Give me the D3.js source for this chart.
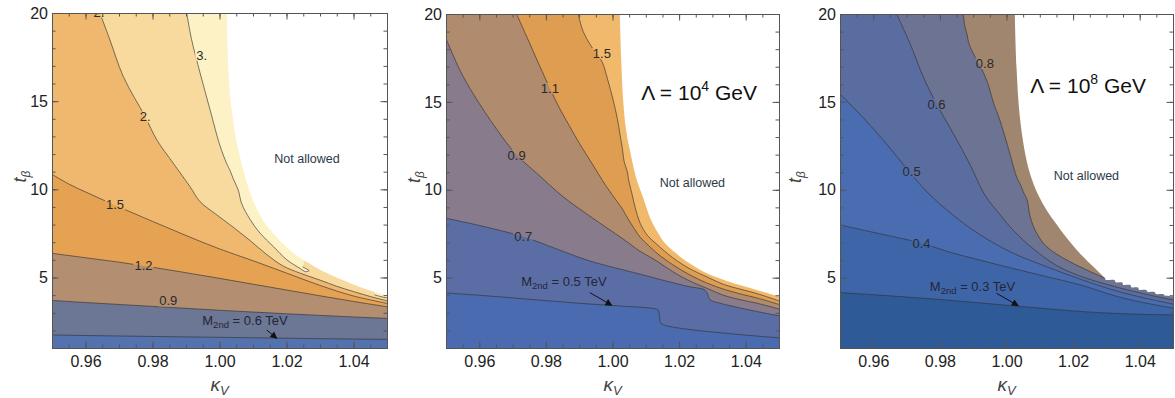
<!DOCTYPE html>
<html><head><meta charset="utf-8">
<script src="https://cdn.jsdelivr.net/npm/d3@7"></script>
<style>
body{margin:0;background:#fff}
svg{display:block}
text{font-family:"Liberation Sans",Arial,sans-serif}
</style>
</head><body>
<svg id="chart" width="1175" height="398"></svg>
<script>
// ---------- axes / ticks ----------
const xDomain = [0.95, 1.05];
const yDomain = [1, 20];
const xMajor = [0.96, 0.98, 1.00, 1.02, 1.04];
const yMajor = [5, 10, 15, 20];
const xMinorStep = 0.005;
const yMinorStep = 1;

// ---------- panel 1 ----------
const p1Levels = [0.6, 0.9, 1.2, 1.5, 2, 3];
const p1_c06 = [[0.95,1.74],[0.97,1.68],[0.99,1.63],[1.01,1.58],[1.03,1.53],[1.05,1.49]];
const p1_c09 = [[0.95,3.70],[0.96,3.58],[0.97,3.47],[0.98,3.36],[0.99,3.25],[1.00,3.14],[1.01,3.04],[1.02,2.94],[1.03,2.85],[1.04,2.76],[1.05,2.68]];
const p1_c12 = [[0.95,6.37],[0.96,6.12],[0.97,5.87],[0.98,5.58],[0.99,5.27],[1.00,4.95],[1.01,4.62],[1.02,4.29],[1.03,3.96],[1.04,3.64],[1.05,3.34]];
const p1_c15 = [[0.95,10.85],[0.955,10.3],[0.96,9.85],[0.965,9.42],[0.97,9.0],[0.98,8.18],[0.99,7.38],[1.00,6.62],[1.01,5.95],[1.02,5.25],[1.03,4.55],[1.04,3.95],[1.05,3.53]];
const p1_c2 = [[0.9643,20],[0.9673,18.47],[0.9713,16.39],[0.9778,14.12],[0.9813,12.8],[0.9862,11.48],[0.9912,10.15],[0.9942,9.3],[0.9992,8.55],[1.0041,7.85],[1.0091,7.1],[1.0141,6.3],[1.019,5.65],[1.024,5.25],[1.03,4.85],[1.035,4.5],[1.04,4.2],[1.045,3.92],[1.05,3.68]];
const p1_c3 = [[0.9902,20],[0.9917,18.47],[0.9942,16.6],[0.9972,14.5],[1.0001,12.5],[1.0021,11.48],[1.0033,11.0],[1.0041,10.6],[1.0056,9.96],[1.0066,9.2],[1.0091,8.3],[1.0121,7.51],[1.0161,6.75],[1.0201,6.0],[1.024,5.52],[1.0257,5.33],[1.0267,5.38],[1.0248,5.6]];
const p1_c3b = [[1.0462,4.02],[1.0485,3.9],[1.05,3.84]];
const p1_edge = [[1.0022,20],[1.0025,17.5],[1.0031,15.5],[1.004,14],[1.0048,13],[1.0058,12.1],[1.0075,10.8],[1.0098,9.45],[1.0125,8.4],[1.0141,7.95],[1.0165,7.4],[1.019,6.9],[1.022,6.4],[1.025,6.0],[1.0285,5.6],[1.032,5.25],[1.0355,4.95],[1.039,4.67],[1.0425,4.42],[1.0459,4.2],[1.05,4.0]];
const p1LabelText = ["2.", "3.", "2.", "1.5", "1.2", "0.9"];
const p1LabelPos = [[0.9640,20.06],[0.9947,17.62],[0.9778,14.12],[0.9688,9.15],[0.9773,5.71],[0.9847,3.68]];
const p1Mass = "0.6";
const p1MassPos = [1.0076, 2.30];
const p1Arrow = [[1.0141,2.02],[1.0171,1.55]];
const p1NotAllowed = [1.0261, 11.76];

// ---------- panel 2 ----------
const p2Levels = [0.5, 0.7, 0.9, 1.1, 1.5];
const p2_c05 = [[0.95,4.13],[0.96,4.0],[0.9732,3.8],[0.983,3.65],[0.9932,3.5],[1.003,3.38],[1.0123,3.25],[1.0136,3.18],[1.0141,2.9],[1.0144,2.45],[1.0156,2.3],[1.0233,2.05],[1.0333,1.85],[1.0433,1.68],[1.05,1.58]];
const p2_c07 = [[0.95,8.38],[0.96,7.97],[0.9732,7.33],[0.983,6.65],[0.9932,5.95],[1.0083,5.2],[1.0163,4.8],[1.0233,4.48],[1.0275,4.32],[1.0285,4.1],[1.0293,3.75],[1.0333,3.5],[1.0433,3.08],[1.05,2.83]];
const p2_c09 = [[0.95,18.6],[0.9542,16.8],[0.9582,15.45],[0.9652,13.45],[0.9712,11.98],[0.9772,10.95],[0.9852,9.6],[0.9932,8.5],[1.0032,7.2],[1.0083,6.5],[1.0133,5.95],[1.018,5.35],[1.0233,4.8],[1.0283,4.4],[1.0333,4.0],[1.0383,3.75],[1.0433,3.55],[1.05,3.22]];
const p2_c11 = [[0.9712,20],[0.9745,18.6],[0.978,17.1],[0.9812,15.77],[0.9842,14.6],[0.9872,13.59],[0.9902,12.6],[0.9932,11.69],[0.9982,10.18],[1.0015,9.3],[1.003,8.9],[1.0045,8.4],[1.0065,7.8],[1.0083,7.3],[1.011,6.8],[1.0133,6.4],[1.018,5.75],[1.0233,5.15],[1.0283,4.7],[1.0333,4.35],[1.0383,4.08],[1.0433,3.85],[1.05,3.48]];
const p2_c15 = [[0.9897,20],[0.9912,19.0],[0.9935,18.2],[0.9968,17.3],[0.9985,16.3],[1.0002,15.1],[1.0015,14.0],[1.0022,13.2],[1.003,12.3],[1.0035,11.6],[1.0045,11.0],[1.0048,10.6],[1.0058,9.8],[1.0068,9.0],[1.0083,8.1],[1.0105,7.4],[1.0133,6.9],[1.018,6.15],[1.0233,5.5],[1.0283,5.05],[1.0333,4.62],[1.0383,4.35],[1.0433,4.1],[1.05,3.68]];
const p2_edge = [[1.0022,20],[1.0026,17.5],[1.0032,15.1],[1.004,13.5],[1.0052,12.26],[1.0073,10.56],[1.0093,9.5],[1.0113,8.4],[1.0135,7.6],[1.0158,6.95],[1.019,6.4],[1.0213,6.05],[1.025,5.6],[1.0283,5.25],[1.0323,4.95],[1.0363,4.68],[1.04,4.48],[1.0433,4.3],[1.047,4.1],[1.05,3.92]];
const p2LabelText = ["1.5", "1.1", "0.9", "0.7"];
const p2LabelPos = [[0.9968,17.76],[0.9812,15.77],[0.9712,11.98],[0.9732,7.33]];
const p2Mass = "0.5";
const p2MassPos = [0.9854, 4.5];
const p2Arrow = [[0.9932,4.15],[0.9998,3.43]];
const p2NotAllowed = [1.024, 10.4];
const p2Lambda = {exp: "4", pos: [1.026, 15.1]};

// ---------- panel 3 ----------
const p3Levels = [0.3, 0.4, 0.5, 0.6, 0.8];
const p3_c03 = [[0.95,4.15],[0.96,4.03],[0.97,3.9],[0.98,3.76],[0.99,3.6],[1.00,3.43],[1.01,3.27],[1.02,3.11],[1.03,2.99],[1.04,2.92],[1.05,2.88]];
const p3_c04 = [[0.95,8.0],[0.96,7.58],[0.9745,6.96],[0.983,6.45],[0.992,6.0],[1.002,5.52],[1.012,5.06],[1.022,4.6],[1.032,4.0],[1.037,3.75],[1.042,3.55],[1.05,3.27]];
const p3_c05 = [[0.95,15.45],[0.957,14.1],[0.964,12.6],[0.9705,11.1],[0.976,9.9],[0.984,8.55],[0.992,7.45],[1.002,6.39],[1.012,5.63],[1.022,4.92],[1.032,4.3],[1.042,3.82],[1.05,3.5]];
const p3_c06 = [[0.967,20],[0.971,18.33],[0.975,16.43],[0.979,14.88],[0.984,13.21],[0.989,11.45],[0.9935,9.7],[0.998,8.6],[1.002,7.7],[1.008,6.65],[1.015,5.7],[1.022,5.1],[1.032,4.52],[1.042,4.05],[1.05,3.73]];
const p3_c08 = [[0.987,20],[0.9875,19.3],[0.9882,18.8],[0.9886,18.4],[0.990,17.76],[0.9925,16.9],[0.9945,16.0],[0.996,15.0],[0.998,13.97],[1.001,12.07],[1.003,10.75],[1.0043,10.25],[1.005,9.9],[1.0062,9.42],[1.0071,8.47],[1.0091,7.52],[1.0121,6.76],[1.0181,6.0],[1.0241,5.44],[1.0296,4.96]];
const p3_edge = [[1.0025,20],[1.003,17.0],[1.004,14.16],[1.006,11.7],[1.0078,10.5],[1.0098,9.6],[1.0122,8.8],[1.0148,8.1],[1.0178,7.33],[1.022,6.39],[1.026,5.63],[1.0296,4.96],[1.0298,4.88],[1.0325,4.86],[1.0328,4.74],[1.0348,4.72],[1.035,4.6],[1.0372,4.58],[1.0375,4.46],[1.0395,4.44],[1.0398,4.32],[1.042,4.3],[1.0423,4.2],[1.0445,4.18],[1.0448,4.08],[1.0472,4.06],[1.0475,3.98],[1.05,3.95]];
const p3LabelText = ["0.8", "0.6", "0.5", "0.4"];
const p3LabelPos = [[0.9935,17.2],[0.979,14.88],[0.9715,11.03],[0.9745,6.96]];
const p3Mass = "0.3";
const p3MassPos = [0.9898, 4.24];
const p3Arrow = [[0.997,4.11],[1.0035,3.41]];
const p3NotAllowed = [1.024, 10.78];
const p3Lambda = {exp: "8", pos: [1.0245, 15.5]};

// ---------- styles (colours per band, lowest first) ----------
const p1Colors = ["#5472ae","#6c7695","#b38e70","#e5a253","#efb86e","#f8da9e","#fdf1c6"];
const p2Colors = ["#4a6bb0","#5a6ea5","#877b8c","#b08b6d","#df9d52","#f0b96b"];
const p3Colors = ["#2e5b97","#3e65a8","#4a6db1","#5a6da0","#6c7393","#a1866f"];

// ---------- layout ----------
const layout = [
  {x0:52,  x1:387,  y0:13, y1:348, ylab:26},
  {x0:446, x1:779,  y0:14, y1:348, ylab:420},
  {x0:840, x1:1173, y0:14, y1:348, ylab:801}
];

const panels = [
  {colors:p1Colors, contours:[[1,p1_c06],[2,p1_c09],[3,p1_c12],[4,p1_c15],[5,p1_c2],[6,p1_c3],[6,p1_c3b]], edge:p1_edge,
   labText:p1LabelText, labPos:p1LabelPos, mass:p1Mass, massPos:p1MassPos, arrow:p1Arrow, na:p1NotAllowed, lambda:null},
  {colors:p2Colors, contours:[[1,p2_c05],[2,p2_c07],[3,p2_c09],[4,p2_c11],[5,p2_c15]], edge:p2_edge,
   labText:p2LabelText, labPos:p2LabelPos, mass:p2Mass, massPos:p2MassPos, arrow:p2Arrow, na:p2NotAllowed, lambda:p2Lambda},
  {colors:p3Colors, contours:[[1,p3_c03],[2,p3_c04],[3,p3_c05],[4,p3_c06],[5,p3_c08]], edge:p3_edge,
   labText:p3LabelText, labPos:p3LabelPos, mass:p3Mass, massPos:p3MassPos, arrow:p3Arrow, na:p3NotAllowed, lambda:p3Lambda}
];

const svg = d3.select("#chart");
const defs = svg.append("defs");
defs.append("marker").attr("id","ah").attr("viewBox","0 0 10 10")
  .attr("refX",9).attr("refY",5).attr("markerWidth",10).attr("markerHeight",7)
  .attr("markerUnits","userSpaceOnUse").attr("orient","auto")
  .append("path").attr("d","M0,0L10,5L0,10z").attr("fill","#111");

const xMinor = d3.range(xDomain[0], xDomain[1] + 1e-9, xMinorStep);
const yMinor = d3.range(yDomain[0], yDomain[1] + 1e-9, yMinorStep);

panels.forEach((P, i) => {
  const L = layout[i];
  const x = d3.scaleLinear().domain(xDomain).range([L.x0, L.x1]);
  const y = d3.scaleLinear().domain(yDomain).range([L.y1, L.y0]);
  const clipId = "clip" + i, maskId = "mask" + i;
  defs.append("clipPath").attr("id", clipId).append("rect")
    .attr("x", L.x0).attr("y", L.y0).attr("width", L.x1 - L.x0).attr("height", L.y1 - L.y0);
  const mask = defs.append("mask").attr("id", maskId).attr("maskUnits","userSpaceOnUse")
    .attr("x",0).attr("y",0).attr("width",1175).attr("height",398);
  mask.append("rect").attr("width",1175).attr("height",398).attr("fill","#fff");

  const g = svg.append("g");
  const plot = g.append("g").attr("clip-path", `url(#${clipId})`);
  const line = d3.line().x(d => x(d[0])).y(d => y(d[1])).curve(d3.curveCatmullRom.alpha(0.5));

  plot.append("rect").attr("x", L.x0).attr("y", L.y0)
    .attr("width", L.x1 - L.x0).attr("height", L.y1 - L.y0).attr("fill", P.colors[0]);

  P.contours.forEach(([band, pts]) => {
    const close = pts[0][0] <= xDomain[0] + 1e-6
      ? [[xDomain[1], yDomain[1]], [xDomain[0], yDomain[1]]]
      : [[xDomain[1], yDomain[1]]];
    const d = line(pts) + close.map(p => `L${x(p[0])},${y(p[1])}`).join("") + "Z";
    plot.append("path").attr("d", d).attr("fill", P.colors[band]);
  });

  plot.append("path")
    .attr("d", line(P.edge) + `L${x(xDomain[1])},${y(yDomain[1])}Z`)
    .attr("fill", "#fff");

  const lg = plot.append("g").attr("mask", `url(#${maskId})`);
  P.contours.forEach(([band, pts]) => {
    lg.append("path").attr("d", line(pts)).attr("fill","none")
      .attr("stroke","#333").attr("stroke-opacity",0.72).attr("stroke-width",0.9);
  });

  // contour labels
  const labs = plot.append("g");
  P.labText.forEach((t, j) => {
    labs.append("text").attr("x", x(P.labPos[j][0])).attr("y", y(P.labPos[j][1]))
      .attr("dy","0.36em").attr("text-anchor","middle")
      .attr("font-size",13).attr("fill","#2a2a2a").text(t);
  });
  labs.selectAll("text").each(function(){
    const b = this.getBBox();
    mask.append("rect").attr("x", b.x - 1).attr("y", b.y + 2)
      .attr("width", b.width + 2).attr("height", b.height - 4).attr("fill","#000");
  });

  // mass label + arrow
  const mt = plot.append("text").attr("x", x(P.massPos[0])).attr("y", y(P.massPos[1]))
    .attr("text-anchor","middle").attr("font-size",13).attr("fill","#252535");
  mt.append("tspan").text("M");
  mt.append("tspan").attr("font-size",9.5).attr("dy",3).text("2nd");
  mt.append("tspan").attr("dy",-3).text(" = " + P.mass + " TeV");
  plot.append("path").attr("d", d3.line().x(d => x(d[0])).y(d => y(d[1]))(P.arrow))
    .attr("stroke","#111").attr("stroke-width",1).attr("fill","none")
    .attr("marker-end","url(#ah)");

  // not allowed
  plot.append("text").attr("x", x(P.na[0])).attr("y", y(P.na[1])).attr("dy","0.35em")
    .attr("text-anchor","middle").attr("font-size",12.5).attr("fill","#2c3a48").text("Not allowed");

  if (P.lambda) {
    const lt = plot.append("text").attr("x", x(P.lambda.pos[0])).attr("y", y(P.lambda.pos[1]))
      .attr("text-anchor","middle").attr("font-size",21).attr("fill","#111");
    lt.append("tspan").text("Λ = 10");
    lt.append("tspan").attr("font-size",14).attr("dy",-9).text(P.lambda.exp);
    lt.append("tspan").attr("dy",9).text(" GeV");
  }

  // axes (frame + inward ticks)
  const fmtX = d3.format(".2f"), fmtY = d3.format("d");
  const mk = (axis, tr, vals, size, fmt, pad) => {
    const a = axis.tickValues(vals).tickSizeInner(-size).tickSizeOuter(0).tickPadding(pad || 3);
    a.tickFormat(fmt || "");
    const s = g.append("g").attr("transform", tr).call(a);
    s.select(".domain").attr("stroke","#555").attr("stroke-width",1);
    s.selectAll(".tick line").attr("stroke","#555");
    s.selectAll("text").attr("font-size",16).attr("fill","#222")
      .attr("font-family",'"Liberation Sans",Arial,sans-serif');
    s.attr("font-family", null).attr("font-size", null);
    return s;
  };
  mk(d3.axisBottom(x), `translate(0,${L.y1})`, xMinor, 3.5);
  mk(d3.axisBottom(x), `translate(0,${L.y1})`, xMajor, 6.5, fmtX, 8);
  mk(d3.axisTop(x), `translate(0,${L.y0})`, xMinor, 3.5);
  mk(d3.axisTop(x), `translate(0,${L.y0})`, xMajor, 6.5);
  mk(d3.axisLeft(y), `translate(${L.x0},0)`, yMinor, 3.5);
  mk(d3.axisLeft(y), `translate(${L.x0},0)`, yMajor, 6.5, fmtY, 4);
  mk(d3.axisRight(y), `translate(${L.x1},0)`, yMinor, 3.5);
  mk(d3.axisRight(y), `translate(${L.x1},0)`, yMajor, 6.5);

  // axis titles
  const xt = g.append("text").attr("x", (L.x0 + L.x1) / 2).attr("y", 391)
    .attr("text-anchor","middle").attr("fill","#444").attr("font-style","italic");
  xt.append("tspan").attr("font-size",19).text("κ");
  xt.append("tspan").attr("font-size",13).attr("dy",4).text("V");

  const yt = g.append("text").attr("transform", `translate(${L.ylab},${(L.y0 + L.y1) / 2 - 4}) rotate(-90)`)
    .attr("text-anchor","middle").attr("fill","#444").attr("font-style","italic");
  yt.append("tspan").attr("font-size",18).text("t");
  yt.append("tspan").attr("font-size",12).attr("dy",4).text("β");
});
</script>
</body></html>
